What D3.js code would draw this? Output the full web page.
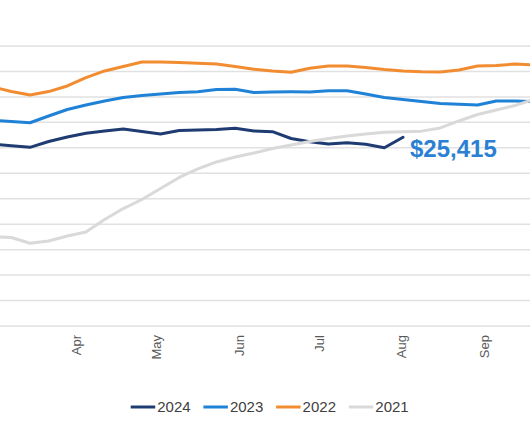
<!DOCTYPE html>
<html>
<head>
<meta charset="utf-8">
<script src="https://cdn.jsdelivr.net/npm/d3@7"></script>
<style>
  html, body { margin: 0; padding: 0; background: #ffffff; }
  svg { display: block; font-family: "Liberation Sans", Arial, sans-serif; }
</style>
</head>
<body>
<svg id="chart" width="530" height="443"></svg>
<script>
// Weekly observation dates (MM-DD)
const weeks = ["03-02","03-09","03-16","03-23","03-30","04-06","04-13","04-20","04-27","05-04","05-11","05-18","05-25","06-01","06-08","06-15","06-22","06-29","07-06","07-13","07-20","07-27","08-03","08-10","08-17","08-24","08-31","09-07","09-14","09-21"];

const values2024 = [25150,25080,25020,25250,25425,25570,25660,25740,25640,25545,25680,25700,25720,25765,25660,25635,25365,25240,25150,25200,25140,25005,25415];
const values2023 = [26075,26035,25985,26250,26505,26680,26840,26975,27055,27115,27175,27205,27290,27300,27175,27195,27200,27195,27245,27245,27115,26975,26900,26820,26740,26710,26680,26840,26840,26810];
const values2022 = [27390,27210,27075,27210,27430,27760,28020,28195,28370,28370,28350,28320,28290,28195,28090,28020,27970,28125,28215,28215,28155,28075,28020,27985,27980,28055,28215,28235,28290,28255];
const values2021 = [21515,21475,21250,21340,21535,21695,22185,22615,22970,23400,23835,24170,24445,24640,24795,24975,25110,25250,25365,25465,25545,25610,25635,25655,25780,26055,26310,26485,26660,26900];

const seriesNames = ["2024","2023","2022","2021"];
const seriesColors = ["#1f3c72","#1f82d6","#f28c30","#d9d9d9"];
const seriesValues = [values2024, values2023, values2022, values2021];

const monthLabels = ["Mar","Apr","May","Jun","Jul","Aug","Sep"];
const monthStarts = ["03-01","04-01","05-01","06-01","07-01","08-01","09-01"];
const yTicks = [18000,19000,20000,21000,22000,23000,24000,25000,26000,27000,28000,29000];
const lastLabel = "$25,415";

const svg = d3.select("#chart");
const W = 530;
const parse = s => d3.timeParse("%Y-%m-%d")("2023-" + s);

const x = d3.scaleTime()
  .domain([parse("03-16"), parse("08-03")])
  .range([30, 403]);
const y = d3.scaleLinear().domain([18000, 29000]).range([326, 46]);

// gridlines
svg.append("g").selectAll("line").data(yTicks).join("line")
  .attr("x1", 0).attr("x2", W)
  .attr("y1", d => y(d)).attr("y2", d => y(d))
  .attr("stroke", "#e1e1e1").attr("stroke-width", 1.5);

// month labels
const xAxis = d3.axisBottom(x)
  .tickValues(monthStarts.map(parse))
  .tickFormat((d, i) => monthLabels[i])
  .tickSize(0);
const gx = svg.append("g").attr("transform", "translate(0,326)").call(xAxis);
gx.select(".domain").remove();
gx.selectAll("text")
  .attr("transform", null)
  .attr("x", 0).attr("y", 0).attr("dy", null)
  .attr("text-anchor", "end")
  .attr("transform", "translate(3.5,9) rotate(-90)")
  .attr("dy", "0.35em")
  .attr("fill", "#595959")
  .style("font-size", "13px")
  .style("font-family", "'Liberation Sans', Arial, sans-serif");

// lines
const line = d3.line()
  .x((d, i) => x(parse(weeks[i])))
  .y(d => y(d));

seriesValues.forEach((vals, s) => {
  svg.append("path")
    .datum(vals)
    .attr("fill", "none")
    .attr("stroke", seriesColors[s])
    .attr("stroke-width", 3)
    .attr("stroke-linejoin", "round")
    .attr("stroke-linecap", "round")
    .attr("d", line);
});

// end label
const lastIdx = values2024.length - 1;
svg.append("text")
  .attr("x", x(parse(weeks[lastIdx])) + 7)
  .attr("y", y(values2024[lastIdx]) + 20)
  .attr("fill", "#2a80d2")
  .style("font-size", "24px")
  .style("font-weight", "bold")
  .text(lastLabel);

// legend
const legend = svg.append("g");
const lx0 = 130.7, lstep = 72.7, ly = 407;
seriesNames.forEach((name, i) => {
  const g = legend.append("g").attr("transform", `translate(${lx0 + i * lstep},${ly})`);
  g.append("line").attr("x1", 0).attr("x2", 24.5).attr("y1", 0).attr("y2", 0)
    .attr("stroke", seriesColors[i]).attr("stroke-width", 3);
  g.append("text").attr("x", 26.5).attr("y", 0).attr("dy", "0.36em")
    .attr("fill", "#404040").style("font-size", "15px").text(name);
});
</script>
</body>
</html>
